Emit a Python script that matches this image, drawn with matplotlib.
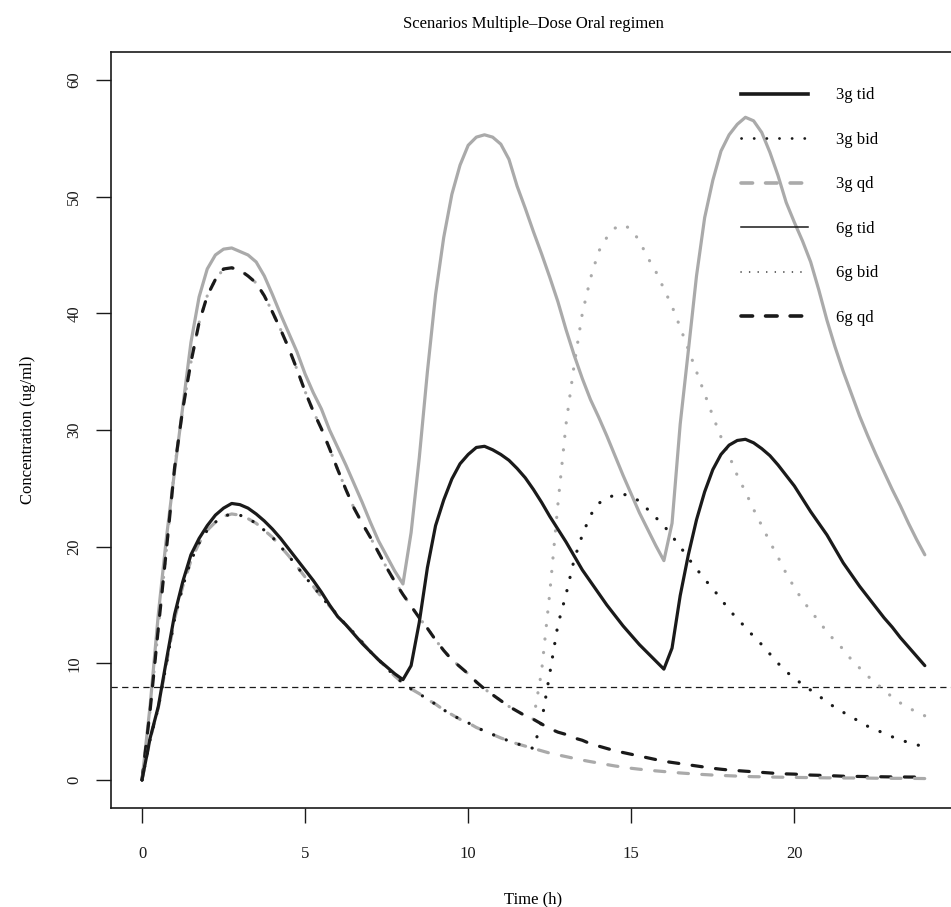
import numpy as np
import matplotlib.pyplot as plt

plt.rcParams['font.family'] = ['Liberation Serif', 'DejaVu Serif']

# time grid (h), every 15 min
time = np.arange(0, 24.25, 0.25)

# concentrations (ug/ml); one row = 3 hours
c3_tid = [0, 3.6, 6.3, 10.3, 14.2, 17.0, 19.3, 20.7, 21.8, 22.7, 23.3, 23.7,
          23.6, 23.3, 22.8, 22.2, 21.5, 20.7, 19.8, 18.9, 18.0, 17.1, 16.1, 15.0,
          14.0, 13.3, 12.5, 11.7, 11.0, 10.3, 9.7, 9.1, 8.6, 9.8, 13.5, 18.2,
          21.8, 24.0, 25.8, 27.1, 27.9, 28.5, 28.6, 28.3, 27.9, 27.4, 26.7, 25.9,
          24.9, 23.8, 22.6, 21.5, 20.4, 19.2, 18.0, 17.0, 16.0, 15.0, 14.1, 13.2,
          12.4, 11.6, 10.9, 10.2, 9.5, 11.3, 15.8, 19.3, 22.3, 24.7, 26.6, 27.9,
          28.7, 29.1, 29.2, 28.9, 28.4, 27.8, 27.0, 26.1, 25.2, 24.1, 23.0, 22.0,
          21.0, 19.8, 18.6, 17.6, 16.6, 15.7, 14.8, 13.9, 13.1, 12.2, 11.4, 10.6,
          9.8]
c3_bid = [0, 3.5, 6.2, 10.0, 13.8, 16.6, 18.8, 20.3, 21.4, 22.1, 22.6, 22.8,
          22.7, 22.4, 22.0, 21.4, 20.8, 20.0, 19.2, 18.3, 17.4, 16.6, 15.7, 14.9,
          14.1, 13.3, 12.6, 11.8, 11.0, 10.3, 9.6, 8.9, 8.3, 7.8, 7.4, 6.9,
          6.5, 6.0, 5.6, 5.2, 4.9, 4.5, 4.2, 3.9, 3.6, 3.35, 3.1, 2.9,
          2.7, 5.0, 9.1, 13.3, 15.9, 18.9, 21.0, 22.7, 23.7, 24.2, 24.4, 24.5,
          24.3, 23.9, 23.2, 22.5, 21.8, 20.9, 20.0, 19.0, 18.1, 17.2, 16.4, 15.5,
          14.6, 13.8, 13.1, 12.3, 11.6, 10.8, 10.0, 9.3, 8.7, 8.2, 7.7, 7.2,
          6.7, 6.2, 5.8, 5.4, 5.0, 4.6, 4.3, 4.0, 3.7, 3.45, 3.2, 3.0,
          2.9]
c3_qd = [0, 3.5, 6.2, 10.0, 13.8, 16.6, 18.8, 20.3, 21.4, 22.1, 22.6, 22.8,
         22.7, 22.4, 22.0, 21.4, 20.8, 20.0, 19.2, 18.3, 17.4, 16.6, 15.7, 14.9,
         14.1, 13.3, 12.6, 11.8, 11.0, 10.3, 9.6, 8.9, 8.3, 7.8, 7.4, 6.9,
         6.5, 6.0, 5.6, 5.2, 4.9, 4.5, 4.2, 3.9, 3.6, 3.35, 3.1, 2.9,
         2.7, 2.5, 2.3, 2.15, 2.0, 1.85, 1.7, 1.57, 1.45, 1.32, 1.2, 1.1,
         1.0, 0.92, 0.85, 0.78, 0.72, 0.66, 0.6, 0.55, 0.5, 0.46, 0.42, 0.39,
         0.36, 0.33, 0.3, 0.28, 0.27, 0.25, 0.24, 0.23, 0.22, 0.21, 0.2, 0.19,
         0.18, 0.18, 0.17, 0.17, 0.16, 0.16, 0.15, 0.15, 0.14, 0.14, 0.13, 0.13,
         0.12]
c6_tid = [0, 6.4, 14.2, 20.8, 26.5, 32.0, 37.5, 41.4, 43.8, 45.0, 45.5, 45.6,
          45.3, 45.0, 44.4, 43.2, 41.6, 39.9, 38.3, 36.7, 34.8, 33.2, 31.8, 30.0,
          28.5, 27.0, 25.4, 23.8, 22.1, 20.5, 19.2, 17.9, 16.8, 21.2, 27.6, 35.0,
          41.6, 46.5, 50.2, 52.7, 54.4, 55.1, 55.3, 55.1, 54.5, 53.2, 50.9, 49.0,
          47.0, 45.1, 43.1, 41.0, 38.6, 36.4, 34.4, 32.6, 31.1, 29.5, 27.8, 26.1,
          24.5, 22.9, 21.5, 20.1, 18.8, 22.0, 30.5, 36.8, 43.2, 48.2, 51.4, 53.9,
          55.3, 56.2, 56.8, 56.5, 55.5, 53.8, 51.8, 49.5, 47.8, 46.2, 44.4, 42.0,
          39.4, 37.1, 35.0, 33.1, 31.2, 29.5, 27.9, 26.4, 24.9, 23.5, 22.0, 20.6,
          19.3]
c6_bid = [0, 6.0, 13.0, 19.8, 26.8, 31.8, 35.8, 39.2, 41.5, 42.9, 43.8, 43.9,
          43.7, 43.2, 42.6, 41.5, 40.1, 38.6, 37.0, 35.2, 33.3, 31.6, 30.1, 28.4,
          26.6, 24.9, 23.3, 22.0, 20.8, 19.5, 18.2, 17.0, 15.9, 14.9, 13.9, 13.0,
          12.0, 11.1, 10.3, 9.7, 9.1, 8.4, 7.8, 7.3, 6.8, 6.3, 5.9, 5.5,
          5.2, 9.3, 16.0, 23.6, 30.5, 35.6, 40.0, 43.0, 45.3, 46.5, 47.3, 47.6,
          47.2, 46.2, 44.8, 43.6, 42.1, 40.6, 38.8, 36.9, 35.0, 33.1, 31.2, 29.4,
          27.8, 26.1, 24.7, 23.2, 21.8, 20.4, 19.1, 17.7, 16.5, 15.4, 14.5, 13.6,
          12.7, 11.9, 11.2, 10.3, 9.6, 8.9, 8.3, 7.7, 7.1, 6.6, 6.2, 5.8,
          5.5]
c6_qd = [0, 6.0, 13.0, 19.8, 26.8, 31.8, 35.8, 39.2, 41.5, 42.9, 43.8, 43.9,
         43.7, 43.2, 42.6, 41.5, 40.1, 38.6, 37.0, 35.2, 33.3, 31.6, 30.1, 28.4,
         26.6, 24.9, 23.3, 22.0, 20.8, 19.5, 18.2, 17.0, 15.9, 14.9, 13.9, 13.0,
         12.0, 11.1, 10.3, 9.7, 9.1, 8.4, 7.8, 7.3, 6.8, 6.3, 5.9, 5.5,
         5.2, 4.8, 4.4, 4.1, 3.9, 3.6, 3.4, 3.1, 2.9, 2.7, 2.5, 2.35,
         2.2, 2.05, 1.9, 1.75, 1.6, 1.5, 1.4, 1.3, 1.2, 1.1, 1.0, 0.92,
         0.85, 0.8, 0.75, 0.7, 0.65, 0.6, 0.55, 0.52, 0.5, 0.46, 0.42, 0.4,
         0.37, 0.35, 0.32, 0.31, 0.3, 0.29, 0.28, 0.27, 0.26, 0.26, 0.25, 0.25,
         0.24]

mic = 8
labels = ['3g tid', '3g bid', '3g qd', '6g tid', '6g bid', '6g qd']

black = '#1a1a1a'
grey = '#aaaaaa'
dot = (0, (0.05, 4.2))
dash = (0, (3.2, 4.2))

fig = plt.figure(figsize=(9.51, 9.07), dpi=100)
ax = fig.add_axes([0.1164, 0.1092, 0.889, 0.8335])

ax.axhline(mic, color=black, lw=0.9, linestyle=(0, (5, 3.5)))

ax.plot(time, c6_tid, color=grey, lw=2.3, solid_capstyle='round', solid_joinstyle='round')
ax.plot(time, c6_bid, color=grey, lw=2.3, linestyle=dot, dash_capstyle='round')
ax.plot(time, c6_qd, color=black, lw=2.3, linestyle=dash, dash_capstyle='round')
ax.plot(time, c3_qd, color=grey, lw=2.3, linestyle=dash, dash_capstyle='round')
ax.plot(time, c3_bid, color=black, lw=2.3, linestyle=dot, dash_capstyle='round')
ax.plot(time, c3_tid, color=black, lw=2.3, solid_capstyle='round', solid_joinstyle='round')

# legend as drawn in the original (styles differ from plotted lines)
h = [plt.Line2D([], [], color=black, lw=2.6),
     plt.Line2D([], [], color=black, lw=2.0, linestyle=(0, (0.05, 4.5)), dash_capstyle='round'),
     plt.Line2D([], [], color=grey, lw=2.6, linestyle=(0, (3.2, 3.6)), dash_capstyle='round'),
     plt.Line2D([], [], color=black, lw=1.1),
     plt.Line2D([], [], color=black, lw=1.1, linestyle=(0, (0.1, 5.5)), dash_capstyle='round'),
     plt.Line2D([], [], color=black, lw=2.6, linestyle=(0, (3.2, 3.6)), dash_capstyle='round')]
ax.legend(h, labels, loc='upper left', bbox_to_anchor=(0.728, 0.973), frameon=False,
          fontsize=12, handlelength=4.0, handletextpad=1.7, labelspacing=1.71)

ax.set_xlim(-0.96, 24.96)
ax.set_ylim(-2.4, 62.4)
ax.set_xticks([0, 5, 10, 15, 20])
ax.set_yticks([0, 10, 20, 30, 40, 50, 60])
ax.tick_params(direction='out', length=10.5, width=1, colors=black, labelsize=12)
ax.tick_params(axis='x', pad=17)
ax.tick_params(axis='y', pad=10)
for lab in ax.get_yticklabels():
    lab.set_rotation(90)
    lab.set_va('center')
for s in ax.spines.values():
    s.set_linewidth(1.2)
    s.set_color(black)

ax.set_xlabel('Time (h)', fontsize=12, labelpad=21)
ax.set_ylabel('Concentration (ug/ml)', fontsize=12, labelpad=22)
ax.set_title('Scenarios Multiple\u2013Dose Oral regimen', fontsize=12, pad=17)

fig.savefig('out.png', dpi=100)
